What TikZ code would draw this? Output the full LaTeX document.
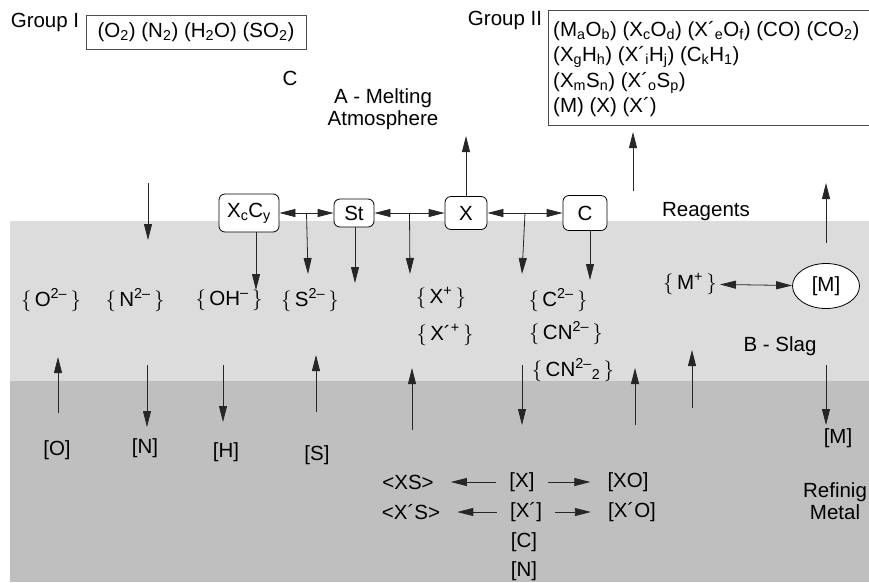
\documentclass[tikz,border=0pt]{standalone}
\usepackage{fontspec}
\setmainfont{Liberation Sans}
\usetikzlibrary{arrows.meta,calc,shapes.geometric}
\definecolor{SlagGray}{HTML}{DCDCDC}
\definecolor{MetalGray}{HTML}{BFBFBF}
\newcommand{\chsub}[1]{\textsubscript{#1}}
\newcommand{\chsup}[1]{\textsuperscript{#1}}
\newcommand{\ion}[1]{$\{$\,#1\,$\}$}

\begin{document}
\begin{tikzpicture}[x=1pt,y=-1pt,
    every node/.style={font=\fontsize{20.5}{25.5}\selectfont, inner sep=1pt},
    arr/.style={draw=black!85, line width=0.8pt, -{Triangle[length=16pt,width=8pt]}},
    darr/.style={arr, {Triangle[length=16pt,width=8pt]}-{Triangle[length=16pt,width=8pt]}},
    gap/.style={shorten <=12pt, shorten >=16pt},
    reag/.style={draw, rounded corners=6pt, fill=white, line width=0.8pt, inner sep=3pt},
    grp/.style={draw=black!70, line width=0.7pt}]
        \useasboundingbox (0,0) rectangle (869,582);
        %Layers
        \fill[SlagGray] (10,221) rectangle (869,381);
        \fill[MetalGray] (10,381) rectangle (869,582);
        %Groups
        \node (g1) at (45,22) {Group I};
        \node[grp, minimum width=220pt, minimum height=34pt] (box1) at (196,32)
            {(O\chsub{2}) (N\chsub{2}) (H\chsub{2}O) (SO\chsub{2})};
        \node (g2) at (505,20) {Group II};
        \draw[grp] (875,10) -- (548,10) -- (548,125) -- (875,125);
        \node[anchor=west, align=left, inner sep=0pt] (box2) at (553,69)
            {(M\chsub{a}O\chsub{b}) (X\chsub{c}O\chsub{d}) (X´\chsub{e}O\chsub{f}) (CO) (CO\chsub{2})\\
             (X\chsub{g}H\chsub{h}) (X´\chsub{i}H\chsub{j}) (C\chsub{k}H\chsub{1})\\
             (X\chsub{m}S\chsub{n}) (X´\chsub{o}S\chsub{p})\\
             (M) (X) (X´)};
        \node (c) at (290,78) {C};
        \node[align=center] (atm) at (383,109) {A - Melting\\[-3pt]Atmosphere};
        %Reagents
        \node[reag, minimum width=60pt, minimum height=38pt] (xcy) at (249,213) {X\chsub{c}C\chsub{y}};
        \node[reag, minimum width=40pt, minimum height=28pt] (st) at (354,213) {St};
        \node[reag, minimum width=42pt, minimum height=33pt] (xr) at (466,213) {X};
        \node[reag, minimum width=44pt, minimum height=35pt] (cr) at (585,213) {C};
        \node (rg) at (706,212) {Reagents};
        \draw[darr] (xcy) -- (st);
        \draw[darr] (st) -- (xr);
        \draw[darr] (xr) -- (cr);
        \coordinate (m1) at ($(xcy.east)!.5!(st.west)$);
        \coordinate (m2) at ($(st.east)!.5!(xr.west)$);
        \coordinate (m3) at ($(xr.east)!.5!(cr.west)$);
        %Slag
        \node (so) at (51,300) {\ion{O\chsup{2–}}};
        \node (sn) at (135,300) {\ion{N\chsup{2–}}};
        \node (soh) at (229,300) {\ion{OH\chsup{–}}};
        \node (ss) at (310,300) {\ion{S\chsup{2–}}};
        \node (sx) at (441,298) {\ion{X\chsup{+}}};
        \node (sxp) at (445,335) {\ion{X´\chsup{+}}};
        \node (sc) at (558,300) {\ion{C\chsup{2–}}};
        \node (scn) at (566,333) {\ion{CN\chsup{2–}}};
        \node (scn2) at (573,370) {\ion{CN\chsup{2–}\chsub{2}}};
        \node (smp) at (690,284) {\ion{M\chsup{+}}};
        \node[ellipse, draw, fill=white, line width=0.8pt, minimum width=67pt, minimum height=45pt] (sm) at (826,286) {[M]};
        \node (bs) at (780,346) {B - Slag};
        \draw[darr, shorten <=2pt] (smp) -- (sm);
        %Metal
        \node (mo) at (57,450) {[O]};
        \node (mn) at (145,448) {[N]};
        \node (mh) at (226,452) {[H]};
        \node (ms) at (317,455) {[S]};
        \node (xs) at (408,482) {<XS>};
        \node (mx) at (522,482) {[X]};
        \node (xo) at (628,482) {[XO]};
        \node (xps) at (411,512) {<X´S>};
        \node (mxp) at (526,512) {[X´]};
        \node (xpo) at (632,512) {[X´O]};
        \node (mc) at (524,542) {[C]};
        \node (mnn) at (524,571) {[N]};
        \node (mm) at (838,438) {[M]};
        \node[align=center] (rm) at (835,501) {Refinig\\[-3pt]Metal};
        \draw[arr, gap] (mx) -- (xs);
        \draw[arr, gap] (mx) -- (xo);
        \draw[arr, gap] (mxp) -- (xps);
        \draw[arr, gap] (mxp) -- (xpo);
        %Atmosphere arrows
        \coordinate (a1) at (148,183); \coordinate (a1e) at (148,240);
        \coordinate (a2) at (466,136);
        \coordinate (a3) at (633,191); \coordinate (a3e) at (633,132);
        \coordinate (a4) at (826,243); \coordinate (a4e) at (826,183);
        \draw[arr] (a1) -- (a1e);
        \draw[arr] (xr) -- (a2);
        \draw[arr] (a3) -- (a3e);
        \draw[arr] (a4) -- (a4e);
        %Reagents to slag
        \coordinate (t1) at (256,290);
        \coordinate (t2) at (308,274);
        \coordinate (t3) at (355,283);
        \coordinate (t4) at (410,274);
        \coordinate (t5) at (522,274);
        \coordinate (t6) at (590,280);
        \draw[arr] (t1 |- xcy.south) -- (t1);
        \draw[arr] (m1) -- (t2);
        \draw[arr] (t3 |- st.south) -- (t3);
        \draw[arr] (m2) -- (t4);
        \draw[arr] (m3) -- (t5);
        \draw[arr] (t6 |- cr.south) -- (t6);
        %Slag and metal
        \coordinate (i1) at (58,413);  \coordinate (i1e) at (58,357);
        \coordinate (i2) at (147,365); \coordinate (i2e) at (147,427);
        \coordinate (i3) at (223,365); \coordinate (i3e) at (223,422);
        \coordinate (i4) at (316,412); \coordinate (i4e) at (316,355);
        \coordinate (i5) at (412,430); \coordinate (i5e) at (412,368);
        \coordinate (i6) at (522,365); \coordinate (i6e) at (522,425);
        \coordinate (i7) at (635,425); \coordinate (i7e) at (635,368);
        \coordinate (i8) at (692,408); \coordinate (i8e) at (692,350);
        \coordinate (i9) at (826,365); \coordinate (i9e) at (826,425);
        \draw[arr] (i1) -- (i1e);
        \draw[arr] (i2) -- (i2e);
        \draw[arr] (i3) -- (i3e);
        \draw[arr] (i4) -- (i4e);
        \draw[arr] (i5) -- (i5e);
        \draw[arr] (i6) -- (i6e);
        \draw[arr] (i7) -- (i7e);
        \draw[arr] (i8) -- (i8e);
        \draw[arr] (i9) -- (i9e);
    \end{tikzpicture}
\end{document}
